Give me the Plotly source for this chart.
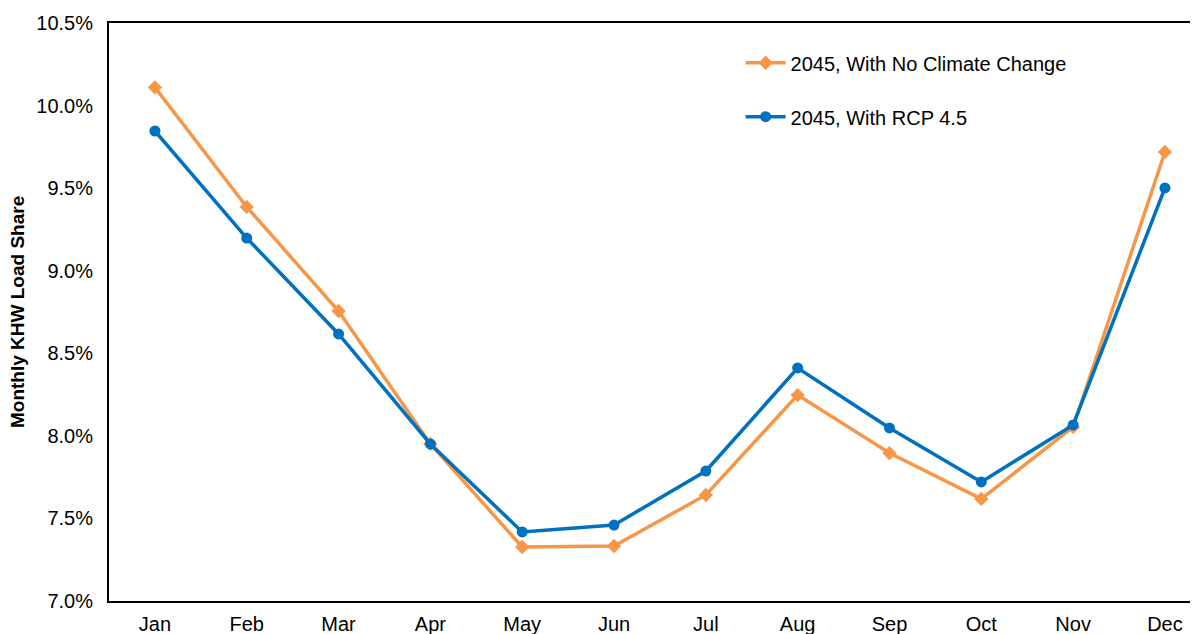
import plotly.graph_objects as go

months = ["Jan", "Feb", "Mar", "Apr", "May", "Jun", "Jul", "Aug", "Sep", "Oct", "Nov", "Dec"]
no_climate = [10.11, 9.386, 8.756, 7.951, 7.327, 7.333, 7.642, 8.247, 7.896, 7.618, 8.054, 9.719]
rcp45 = [9.846, 9.198, 8.617, 7.951, 7.418, 7.460, 7.787, 8.411, 8.048, 7.721, 8.066, 9.501]
yticks = [7.0, 7.5, 8.0, 8.5, 9.0, 9.5, 10.0, 10.5]
ytick_text = ["7.0%", "7.5%", "8.0%", "8.5%", "9.0%", "9.5%", "10.0%", "10.5%"]

ORANGE = "#F79646"
BLUE = "#0070C0"
FONT = "Liberation Sans, Arial, sans-serif"

fig = go.Figure()
fig.add_trace(go.Scatter(
    x=list(range(len(months))), y=no_climate, mode="lines+markers",
    name="2045, With No Climate Change", legendgroup="a",
    line=dict(color=ORANGE, width=3.5),
    marker=dict(symbol="diamond", size=11, color=ORANGE),
))
fig.add_trace(go.Scatter(
    x=list(range(len(months))), y=rcp45, mode="lines+markers",
    name="2045, With RCP 4.5", legendgroup="b",
    line=dict(color=BLUE, width=3.5),
    marker=dict(symbol="circle", size=11, color=BLUE),
))

fig.update_layout(
    width=1190, height=626,
    margin=dict(l=101, r=0, t=15, b=33),
    paper_bgcolor="white", plot_bgcolor="white",
    font=dict(family=FONT, size=20, color="black"),
    showlegend=True,
    legend=dict(x=0.580, y=0.965, xanchor="left", yanchor="top",
                bgcolor="rgba(0,0,0,0)", font=dict(size=20),
                tracegroupgap=25, itemwidth=40),
    xaxis=dict(
        tickmode="array", tickvals=list(range(len(months))), ticktext=months,
        range=[-0.5, 11.36], showgrid=False, zeroline=False,
        showline=True, linecolor="black", linewidth=2, mirror=True,
        ticks="", tickfont=dict(size=20), ticklabelstandoff=4,
    ),
    yaxis=dict(
        range=[7.0, 10.5], tickvals=yticks, ticktext=ytick_text,
        showgrid=False, zeroline=False, showline=True, linecolor="black",
        linewidth=2, ticks="", tickfont=dict(size=20), ticklabelstandoff=10,
    ),
    shapes=[dict(type="line", xref="paper", yref="paper", x0=1, x1=1.05,
                 y0=1, y1=1, line=dict(color="black", width=2))],
    annotations=[dict(
        text="<b>Monthly KHW Load Share</b>", textangle=-90,
        xref="paper", yref="paper", x=(17 - 109) / 1089, y=0.5,
        xanchor="center", yanchor="middle", showarrow=False,
        font=dict(size=19, family=FONT),
    )],
)

fig.write_html("out.html")
